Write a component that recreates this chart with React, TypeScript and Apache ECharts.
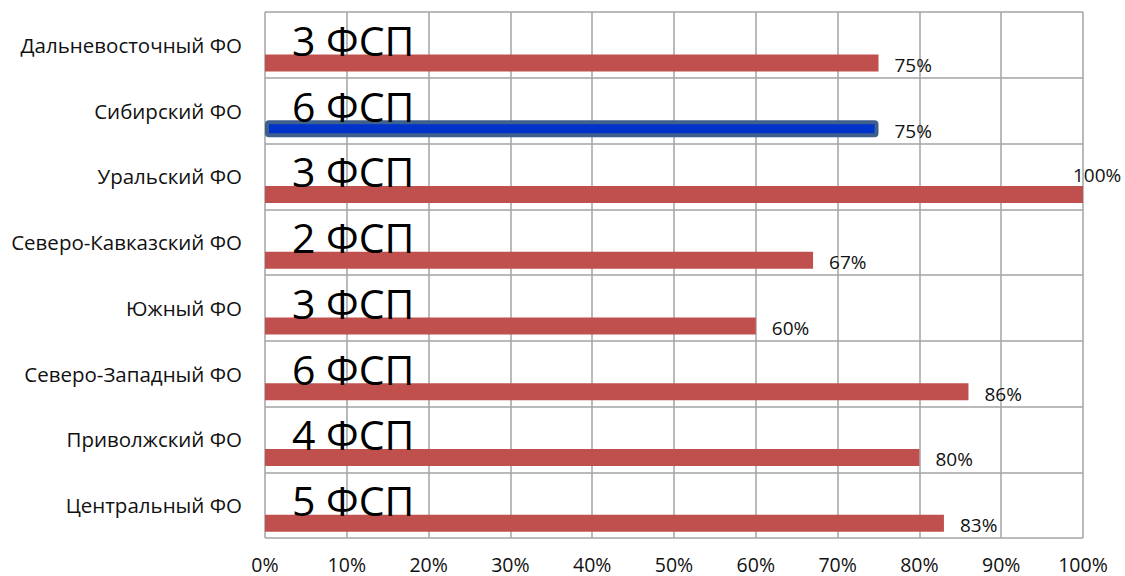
import React, { useEffect, useRef } from "react";
import * as echarts from "echarts";

const categories = [
  "Центральный ФО",
  "Приволжский ФО",
  "Северо-Западный ФО",
  "Южный ФО",
  "Северо-Кавказский ФО",
  "Уральский ФО",
  "Сибирский ФО",
  "Дальневосточный ФО",
];
const shares = [83, 80, 86, 60, 67, 100, 75, 75];
const fspCounts = [5, 4, 6, 3, 2, 3, 6, 3];
const highlighted = "Сибирский ФО";
const xTicks = { min: 0, max: 100, interval: 10 };

export default function App() {
  const ref = useRef<HTMLDivElement>(null);
  useEffect(() => {
    if (!ref.current) return;
    const chart = echarts.init(ref.current, null, { renderer: "svg" });
    const font = "'Open Sans', sans-serif";
    const gridColor = "#a3a3a3";
    chart.setOption({
      animation: false,
      backgroundColor: "#ffffff",
      grid: { left: 265, right: 42, top: 12, bottom: 38, containLabel: false },
      xAxis: {
        type: "value",
        min: xTicks.min,
        max: xTicks.max,
        interval: xTicks.interval,
        axisLine: { show: false },
        axisTick: { show: false },
        axisLabel: {
          formatter: "{value}%",
          fontFamily: font,
          fontSize: 19.5,
          color: "#111111",
          margin: 16,
        },
        splitLine: { show: true, lineStyle: { color: gridColor, width: 1.5 } },
      },
      yAxis: {
        type: "category",
        data: categories,
        axisLine: { show: false },
        axisTick: { show: false },
        axisLabel: {
          fontFamily: font,
          fontSize: 20.5,
          color: "#111111",
          margin: 23,
        },
        splitLine: { show: true, lineStyle: { color: gridColor, width: 1.5 } },
      },
      series: [
        {
          name: "spacer",
          type: "bar",
          data: [],
          barWidth: 17,
          barGap: "112%",
        },
        {
          name: "Доля",
          type: "bar",
          barWidth: 17,
          barGap: "112%",
          data: shares.map((v, i) => {
            const item: any = { value: v };
            if (categories[i] === highlighted) {
              item.itemStyle = {
                color: "#0033cc",
                borderColor: "#3f5f8c",
                borderWidth: 4,
                borderRadius: 2,
              };
            }
            if (v >= xTicks.max) {
              item.label = { offset: [-26, -19] };
            }
            return item;
          }),
          itemStyle: { color: "#c0504d" },
          label: {
            show: true,
            position: "right",
            distance: 16,
            offset: [0, 2],
            formatter: "{c}%",
            fontFamily: font,
            fontSize: 19,
            color: "#111111",
          },
        },
        {
          name: "ФСП",
          type: "scatter",
          symbolSize: 0,
          clip: false,
          data: categories.map((c) => [0, c]),
          label: {
            show: true,
            position: "right",
            distance: 27,
            offset: [0, -5],
            formatter: (p: any) => `${fspCounts[p.dataIndex]} ФСП`,
            fontFamily: font,
            fontSize: 41,
            fontWeight: 500,
            color: "#000000",
            opacity: 1,
          },
          z: 5,
        },
      ],
    });
    return () => chart.dispose();
  }, []);
  return (
    <div
      ref={ref}
      style={{ position: "fixed", left: 0, top: 0, width: 1125, height: 576 }}
    />
  );
}
